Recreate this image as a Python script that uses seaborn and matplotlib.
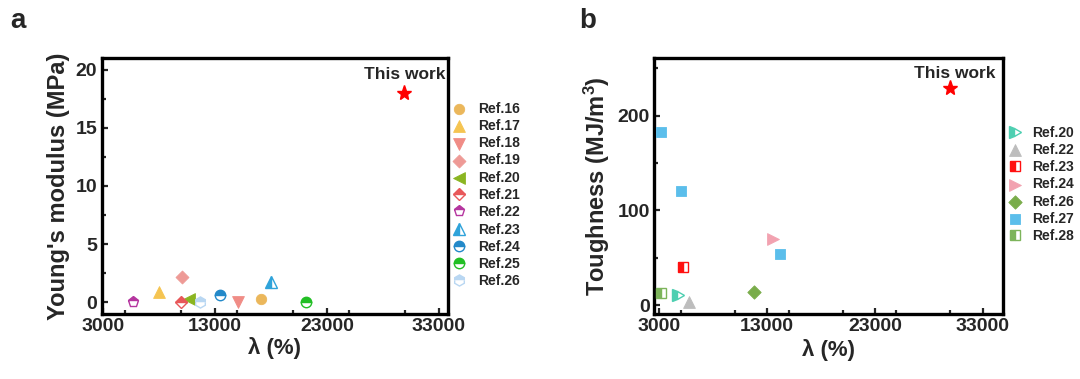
import numpy as np
import seaborn as sns
import matplotlib
matplotlib.use("Agg")
import matplotlib.pyplot as plt
from matplotlib.ticker import MultipleLocator

# panel a: Young's modulus vs stretch
a_labels = ["Ref.16", "Ref.17", "Ref.18", "Ref.19", "Ref.20", "Ref.21",
            "Ref.22", "Ref.23", "Ref.24", "Ref.25", "Ref.26"]
a_x = [17100, 8050, 15080, 10050, 10720, 10000, 5690, 18050, 13450, 21100, 11700]
a_y = [0.3, 0.85, 0.0, 2.2, 0.3, 0.0, 0.0, 1.7, 0.65, 0.0, 0.0]
a_star_x, a_star_y = 29850, 18.0

# panel b: toughness vs stretch
b_labels = ["Ref.20", "Ref.22", "Ref.23", "Ref.24", "Ref.26", "Ref.27", "Ref.28"]
b_x = [[4770], [5730], [5170], [13550], [11780], [3190, 5020, 14170], [3160]]
b_y = [[10.6], [3.5], [40.5], [70], [13.8], [183, 120, 54], [13]]
b_star_x, b_star_y = 30000, 229

# marker, colour, fillstyle, size (pt)
a_style = [("o", "#EBB75B", "full", 7.5), ("^", "#F5C451", "full", 8.5),
           ("v", "#F08C86", "full", 8.5), ("D", "#EE9A96", "full", 6.6),
           ("<", "#8AB521", "full", 8.5), ("D", "#E8585A", "top", 6.6),
           ("p", "#B5359F", "top", 8), ("^", "#2FA3DA", "left", 8.5),
           ("o", "#2389C9", "top", 7.5), ("o", "#22BF25", "top", 7.5),
           ("h", "#B9D7F2", "top", 8)]
b_style = [(">", "#4ECFB1", "left", 8.5), ("^", "#BDBDBD", "full", 8.5),
           ("s", "#FF1010", "left", 7.5), (">", "#F2A2B0", "full", 8.5),
           ("D", "#79AC4A", "full", 6.8), ("s", "#5BBEEB", "full", 7.5),
           ("s", "#7DB45B", "left", 7.5)]

sns.set_style("ticks")
plt.rcParams["font.family"] = ["Liberation Sans", "DejaVu Sans"]
plt.rcParams["font.weight"] = "bold"
plt.rcParams["axes.labelweight"] = "bold"
plt.rcParams["mathtext.fontset"] = "custom"
plt.rcParams["mathtext.rm"] = "Liberation Sans:bold"
plt.rcParams["mathtext.it"] = "Liberation Sans:bold"
plt.rcParams["mathtext.bf"] = "Liberation Sans:bold"

fig = plt.figure(figsize=(10.8, 3.79), dpi=100)
ax1 = fig.add_axes([0.094, 0.1715, 0.3208, 0.6755])
ax2 = fig.add_axes([0.6056, 0.1715, 0.3231, 0.6755])


def draw(ax, xs, ys, style, lab):
    m, c, fs, ms = style
    if fs == "full":
        sns.scatterplot(x=xs, y=ys, marker=m, s=ms ** 2, color=c, edgecolor=c,
                        linewidth=0.6, label=lab, ax=ax, legend=False, zorder=3)
        return ax.collections[-1]
    line, = ax.plot(xs, ys, ls="none", marker=m, ms=ms, color=c, mec=c, mew=1.0,
                    fillstyle=fs, markerfacecoloralt="white", label=lab, zorder=3)
    return line


def style_axes(ax):
    for sp in ax.spines.values():
        sp.set_linewidth(2.4)
        sp.set_color("black")
        sp.set_visible(True)
    ax.tick_params(which="both", direction="in", top=False, right=False,
                   labelsize=14, width=1.6, pad=3)
    ax.tick_params(which="major", length=4)
    ax.tick_params(which="minor", length=3)
    ax.set_xticks([3000, 13000, 23000, 33000])
    ax.xaxis.set_minor_locator(MultipleLocator(5000))
    for t in ax.get_xticklabels() + ax.get_yticklabels():
        t.set_fontweight("bold")


h1 = [draw(ax1, [a_x[i]], [a_y[i]], a_style[i], a_labels[i]) for i in range(len(a_labels))]
ax1.plot([a_star_x], [a_star_y], ls="none", marker="*", ms=11, color="#FF0000", zorder=4)
ax1.text(33600, 19.65, "This work", ha="right", va="center", fontsize=12.5, fontweight="bold")
ax1.set_xlim(2900, 33800)
ax1.set_ylim(-1.03, 21.03)
ax1.set_yticks([0, 5, 10, 15, 20])
ax1.yaxis.set_minor_locator(MultipleLocator(2.5))
style_axes(ax1)
ax1.set_xlabel("λ (%)", fontsize=16, labelpad=1)
ax1.set_ylabel("Young's modulus (MPa)", fontsize=17, labelpad=4)
ax1.legend(h1, a_labels, loc="center left", bbox_to_anchor=(0.4185, 0.4855),
           bbox_transform=fig.transFigure, frameon=False, borderpad=0, borderaxespad=0,
           handlelength=1.0, handletextpad=0.85, labelspacing=0.235,
           scatterpoints=1, numpoints=1, prop={"weight": "bold", "size": 10})

h2 = [draw(ax2, b_x[i], b_y[i], b_style[i], b_labels[i]) for i in range(len(b_labels))]
ax2.plot([b_star_x], [b_star_y], ls="none", marker="*", ms=11, color="#FF0000", zorder=4)
ax2.text(34200, 245, "This work", ha="right", va="center", fontsize=12.5, fontweight="bold")
ax2.set_xlim(2500, 34900)
ax2.set_ylim(-9.5, 261)
ax2.set_yticks([0, 100, 200])
ax2.yaxis.set_minor_locator(MultipleLocator(50))
style_axes(ax2)
ax2.set_xlabel("λ (%)", fontsize=16, labelpad=3)
ax2.set_ylabel("Toughness (MJ/m$^{3}$)", fontsize=17, labelpad=4)
ax2.legend(h2, b_labels, loc="center left", bbox_to_anchor=(0.9333, 0.5135),
           bbox_transform=fig.transFigure, frameon=False, borderpad=0, borderaxespad=0,
           handlelength=1.0, handletextpad=0.75, labelspacing=0.23,
           scatterpoints=1, numpoints=1, prop={"weight": "bold", "size": 10})

fig.text(10 / 1080, 1 - 28 / 379, "a", fontsize=20, fontweight="bold", va="baseline")
fig.text(579 / 1080, 1 - 28 / 379, "b", fontsize=20, fontweight="bold", va="baseline")

fig.savefig("out.png", dpi=100)
